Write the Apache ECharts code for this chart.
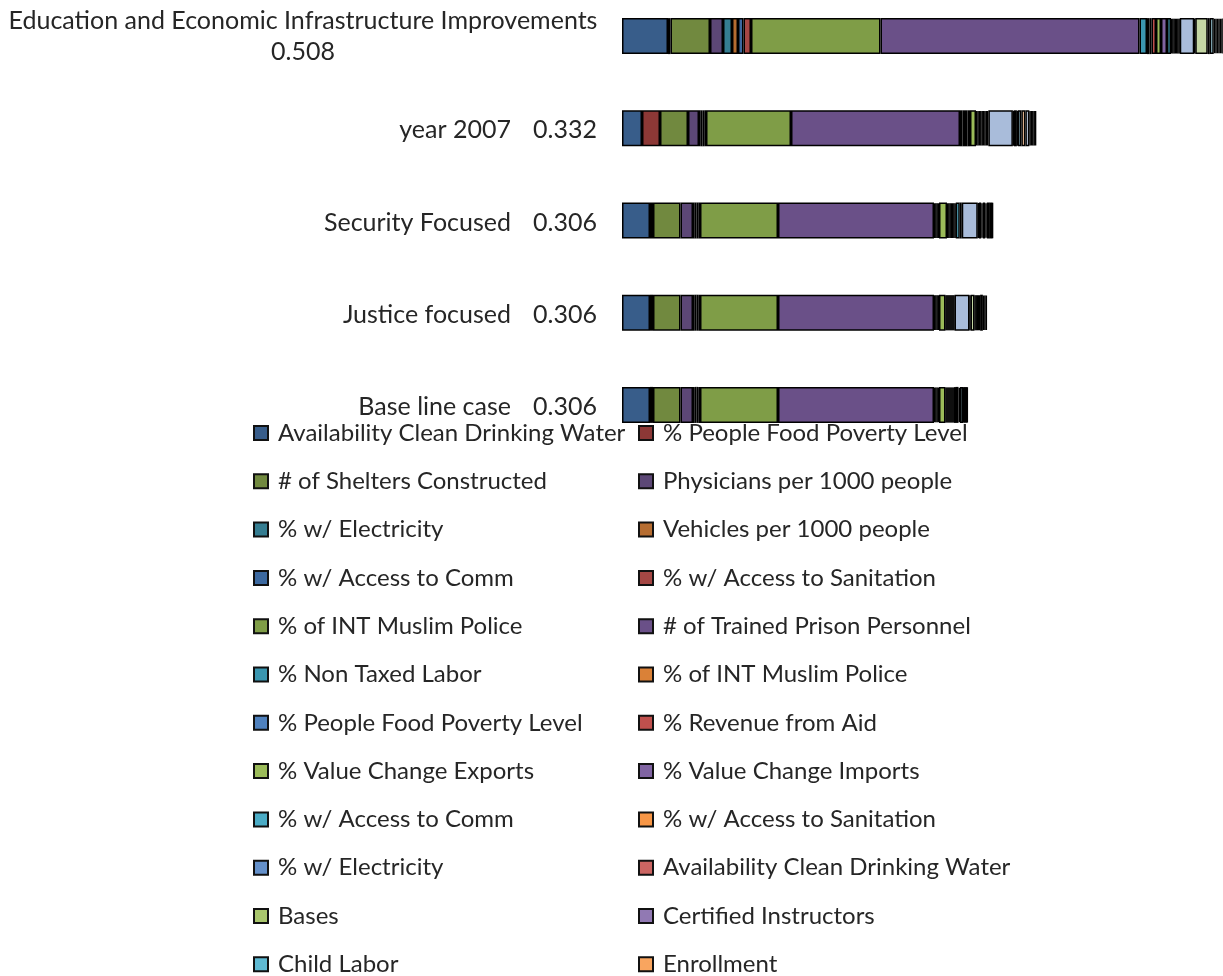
<!DOCTYPE html>
<html>
<head>
<meta charset="utf-8">
<script src="https://cdn.jsdelivr.net/npm/echarts@6/dist/echarts.min.js"></script>
<style>
html, body { margin: 0; padding: 0; background: #fff; }
#main { width: 1223px; height: 976px; }
</style>
</head>
<body>
<div id="main"></div>
<script>
var categories = ['Education and Economic Infrastructure Improvements', 'year 2007', 'Security Focused', 'Justice focused', 'Base line case'];
var scoreLabels = ['0.508', '0.332', '0.306', '0.306', '0.306'];

// names of the stacked parts, legend order (a trailing space keeps repeated names apart)
var seriesNames = [
    'Availability Clean Drinking Water', '% People Food Poverty Level', '# of Shelters Constructed', 'Physicians per 1000 people',
    '% w/ Electricity', 'Vehicles per 1000 people', '% w/ Access to Comm', '% w/ Access to Sanitation',
    '% of INT Muslim Police', '# of Trained Prison Personnel', '% Non Taxed Labor', '% of INT Muslim Police ',
    '% People Food Poverty Level ', '% Revenue from Aid', '% Value Change Exports', '% Value Change Imports',
    '% w/ Access to Comm ', '% w/ Access to Sanitation ', '% w/ Electricity ', 'Availability Clean Drinking Water ',
    'Bases', 'Certified Instructors', 'Child Labor', 'Enrollment',
    'Series 25', 'Series 26', 'Series 27', 'Series 28', 'Series 29', 'Series 30',
    'Series 31', 'Series 32', 'Series 33', 'Series 34', 'Series 35', 'Series 36'
];

// one value per part, same order as seriesNames
var educationValues = [0.0368, 0.0020, 0.0316, 0.0104, 0.0072, 0.0048, 0.0044, 0.0060, 0.1036, 0.2072, 0.0060, 0.0020,
    0.0016, 0.0036, 0.0040, 0.0048, 0.0032, 0.0010, 0.0010, 0.0010, 0.0010, 0.0010, 0.0010, 0.0010,
    0.0116, 0.0008, 0.0100, 0.0016, 0.0032, 0.0012, 0.0012, 0.0012, 0.0012, 0.0012, 0.0012, 0.0240];
var year2007Values = [0.0160, 0.0144, 0.0224, 0.0088, 0.0014, 0.0014, 0.0014, 0.0014, 0.0680, 0.1352, 0.0020, 0.0020,
    0.0020, 0.0020, 0.0048, 0.0011, 0.0011, 0.0011, 0.0011, 0.0011, 0.0011, 0.0011, 0.0011, 0.0011,
    0.0196, 0.0008, 0.0024, 0.0008, 0.0028, 0.0032, 0.0032, 0.0011, 0.0011, 0.0011, 0.0011, 0.0011];
var securityValues = [0.0224, 0.0024, 0.0220, 0.0100, 0.0014, 0.0014, 0.0014, 0.0014, 0.0624, 0.1248, 0.0010, 0.0010,
    0.0010, 0.0010, 0.0064, 0.0010, 0.0010, 0.0010, 0.0010, 0.0010, 0.0010, 0.0010, 0.0032, 0.0016,
    0.0128, 0.0008, 0.0020, 0.0012, 0.0020, 0.0012, 0.0024, 0.0005, 0.0005, 0.0005, 0.0005, 0.0005];
var justiceValues = [0.0224, 0.0024, 0.0220, 0.0100, 0.0014, 0.0014, 0.0014, 0.0014, 0.0624, 0.1248, 0.0010, 0.0010,
    0.0010, 0.0010, 0.0052, 0.0008, 0.0008, 0.0008, 0.0008, 0.0008, 0.0008, 0.0008, 0.0008, 0.0008,
    0.0120, 0.0008, 0.0032, 0.0009, 0.0009, 0.0009, 0.0009, 0.0009, 0.0022, 0.0011, 0.0011, 0.0011];
var baselineValues = [0.0224, 0.0024, 0.0220, 0.0100, 0.0014, 0.0014, 0.0014, 0.0014, 0.0624, 0.1248, 0.0010, 0.0010,
    0.0010, 0.0010, 0.0052, 0.0008, 0.0008, 0.0008, 0.0008, 0.0008, 0.0008, 0.0008, 0.0008, 0.0008,
    0.0004, 0.0004, 0.0024, 0.0012, 0.0026, 0.0005, 0.0005, 0.0005, 0.0005, 0.0005, 0.0005, 0.0005];

var colorPalette = [
    '#385D8A', '#8C3836', '#71893F', '#5C4776', '#357D91', '#B66D31',
    '#3C69A0', '#A54744', '#7F9D47', '#6A5088', '#3A96B0', '#DA8137',
    '#4F81BD', '#C0504D', '#9BBB59', '#8064A2', '#4BACC6', '#F79646',
    '#6490CA', '#CB6562', '#A9C66D', '#9179B3', '#5FBAD3', '#F9A55F',
    '#A9BCDA', '#D9A3A1', '#C4D6A4', '#B7ABCD', '#A5D4E3', '#FBC9A1',
    '#C6D3E8', '#E8C6C5', '#D9E5C6', '#D3CBE0', '#C7E4ED', '#FCDCC4'
];

var byCategory = [educationValues, year2007Values, securityValues, justiceValues, baselineValues];
var fontName = 'Lato';
var textColor = '#262626';

var series = [];
for (var i = 0; i < seriesNames.length; i++) {
    var data = [];
    for (var c = 0; c < byCategory.length; c++) {
        data.push(byCategory[c][i]);
    }
    series.push({
        name: seriesNames[i],
        type: 'bar',
        stack: 'total',
        barWidth: 36,
        clip: false,
        itemStyle: { color: colorPalette[i], borderColor: '#000', borderWidth: 1.5 },
        data: data
    });
}

// legend in two columns
var leftNames = [], rightNames = [];
for (var k = 0; k < 24; k++) {
    if (k % 2 == 0) leftNames.push(seriesNames[k]);
    else rightNames.push(seriesNames[k]);
}
function makeLegend(names, left) {
    return {
        data: names,
        orient: 'vertical',
        left: left,
        top: 420,
        height: 800,
        padding: 0,
        itemWidth: 14,
        itemHeight: 14,
        itemGap: 22.3,
        icon: 'rect',
        selectedMode: false,
        itemStyle: { borderColor: '#111', borderWidth: 2 },
        textStyle: { fontFamily: fontName, fontSize: 24, color: textColor, lineHeight: 26, padding: [0, 0, 0, 5] }
    };
}

var myChart = echarts.init(document.getElementById('main'));
var option = {
    animation: false,
    legend: [makeLegend(leftNames, 253), makeLegend(rightNames, 638)],
    grid: {
        left: 622,
        top: -10,
        width: 625,
        height: 461,
        outerBoundsMode: 'none'
    },
    xAxis: {
        type: 'value',
        min: 0,
        max: 0.5,
        show: false
    },
    yAxis: {
        type: 'category',
        inverse: true,
        data: categories,
        axisLine: { show: false },
        axisTick: { show: false },
        axisLabel: {
            margin: 25,
            fontFamily: fontName,
            fontSize: 25,
            color: textColor,
            formatter: function (value, index) {
                if (index == 0) {
                    return '{wide|' + value + '}\n{wide|' + scoreLabels[index] + '}';
                }
                return '{n|' + value + '}{v|' + scoreLabels[index] + '}';
            },
            rich: {
                wide: { width: 588, align: 'center', lineHeight: 31, fontFamily: fontName, fontSize: 25, color: textColor },
                n: { fontFamily: fontName, fontSize: 25, color: textColor, padding: [4, 0, 0, 0] },
                v: { width: 86, align: 'right', fontFamily: fontName, fontSize: 25, color: textColor, padding: [4, 0, 0, 0] }
            }
        }
    },
    series: series
};
myChart.setOption(option);
</script>
</body>
</html>
